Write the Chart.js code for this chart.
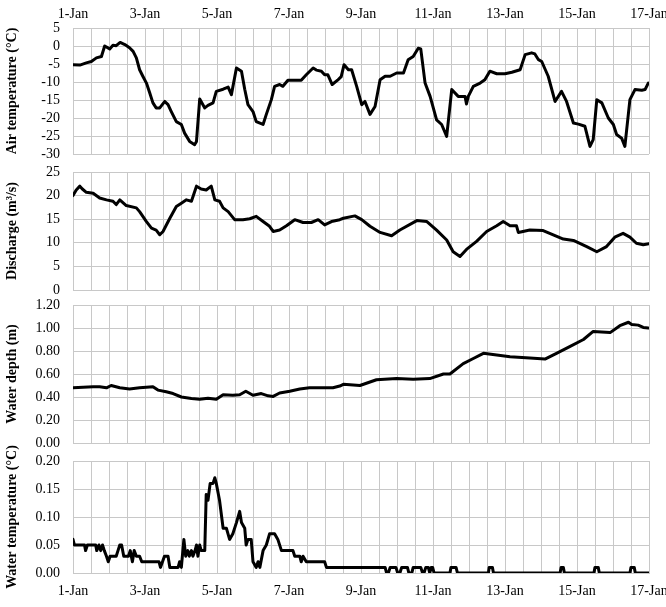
<!DOCTYPE html>
<html>
<head>
<meta charset="utf-8">
<script src="https://cdn.jsdelivr.net/npm/chart.js@4/dist/chart.umd.min.js"></script>
<style>
  html, body { margin: 0; padding: 0; background: #fff; }
  body { width: 666px; height: 607px; position: relative; overflow: hidden; }
  canvas { position: absolute; left: 0; }
</style>
</head>
<body>
<canvas id="c1" width="666" height="166" style="top:0px"></canvas>
<canvas id="c2" width="666" height="140" style="top:160px"></canvas>
<canvas id="c3" width="666" height="160" style="top:293px"></canvas>
<canvas id="c4" width="666" height="187" style="top:420px"></canvas>
<script>
// x tick labels (day offset 0 = 1-Jan, every 2 days)
const dayLabels = ['1-Jan','3-Jan','5-Jan','7-Jan','9-Jan','11-Jan','13-Jan','15-Jan','17-Jan'];

// Air temperature (°C)
const airDays = [0, .19, .37, .51, .65, .79, .88, 1.02, 1.11, 1.2,
  1.31, 1.44, 1.57, 1.67, 1.76, 1.85, 1.94, 2.04, 2.13, 2.22,
  2.31, 2.41, 2.55, 2.64, 2.73, 2.87, 3.01, 3.1, 3.24, 3.38,
  3.43, 3.52, 3.66, 3.75, 3.89, 3.98, 4.17, 4.31, 4.4, 4.54,
  4.68, 4.77, 4.86, 5.0, 5.09, 5.28, 5.37, 5.51, 5.6, 5.74,
  5.83, 5.97, 6.11, 6.34, 6.48, 6.67, 6.76, 6.9, 6.99, 7.08,
  7.2, 7.35, 7.45, 7.53, 7.65, 7.74, 7.88, 8.02, 8.11, 8.25,
  8.39, 8.53, 8.67, 8.81, 8.99, 9.18, 9.31, 9.45, 9.59, 9.66,
  9.78, 9.92, 10.1, 10.24, 10.38, 10.52, 10.7, 10.89, 10.93, 10.98,
  11.12, 11.31, 11.44, 11.58, 11.77, 12.0, 12.19, 12.42, 12.56, 12.74,
  12.83, 12.93, 13.02, 13.2, 13.39, 13.57, 13.71, 13.9, 14.04, 14.22,
  14.36, 14.45, 14.55, 14.69, 14.87, 15.01, 15.1, 15.24, 15.33, 15.47,
  15.61, 15.8, 15.89, 15.98];
const airTemp = [-5.2, -5.3, -4.7, -4.3, -3.3, -2.9, 0, -0.8, 0.2, 0.1,
  1.0, 0.4, -0.5, -1.5, -3.3, -6.6, -8.4, -10.3, -13, -15.8,
  -17.2, -17.2, -15.4, -16.3, -18.2, -21, -21.8, -24.2, -26.5, -27.4,
  -26.5, -14.7, -17.2, -16.5, -15.8, -12.6, -12, -11.4, -13.5, -6.1,
  -7, -12, -16.3, -18.2, -21, -21.8, -19, -14.9, -11.2, -10.7,
  -11.2, -9.5, -9.5, -9.5, -8, -6.1, -6.7, -7, -8, -8,
  -10.7, -9.5, -8.5, -5.2, -6.6, -6.6, -11.2, -16.3, -15.4, -19,
  -16.8, -9.4, -8.4, -8.4, -7.5, -7.5, -3.8, -2.9, -0.6, -0.8,
  -10.3, -14, -20.5, -21.8, -25.1, -12.1, -14, -14, -16.1, -14,
  -11.2, -10.3, -9.4, -7, -7.7, -7.7, -7.3, -6.6, -2.4, -1.9,
  -2.2, -3.8, -4.3, -8.4, -15.4, -12.6, -15.4, -21.4, -21.7, -22.3,
  -27.9, -26, -14.9, -15.8, -20, -21.8, -24.6, -25.6, -27.9, -14.9,
  -12.1, -12.3, -12.1, -10.3];

// Discharge (m3/s)
const qDays = [0, .09, .19, .26, .37, .56, .74, .93, 1.11, 1.2,
  1.3, 1.48, 1.76, 1.85, 2.04, 2.18, 2.31, 2.41, 2.5, 2.69,
  2.87, 3.01, 3.15, 3.29, 3.43, 3.56, 3.7, 3.84, 3.94, 4.07,
  4.17, 4.31, 4.49, 4.72, 4.91, 5.09, 5.28, 5.46, 5.56, 5.74,
  5.93, 6.16, 6.39, 6.62, 6.81, 6.99, 7.18, 7.41, 7.51, 7.83,
  8.02, 8.25, 8.53, 8.85, 9.08, 9.55, 9.83, 10.1, 10.38, 10.56,
  10.75, 10.93, 11.21, 11.49, 11.77, 11.95, 12.14, 12.32, 12.37, 12.69,
  13.06, 13.34, 13.62, 13.9, 14.27, 14.55, 14.82, 15.05, 15.28, 15.47,
  15.65, 15.84, 16.0];
const discharge = [20.0, 21.2, 22, 21.4, 20.7, 20.5, 19.5, 19.1, 18.8, 18.1,
  19.1, 17.9, 17.4, 16.6, 14.5, 13.1, 12.7, 11.7, 12.4, 15.2,
  17.7, 18.4, 19.1, 18.8, 22, 21.4, 21.2, 22, 19.1, 18.8,
  17.4, 16.6, 14.9, 14.9, 15.1, 15.6, 14.5, 13.5, 12.4, 12.7,
  13.6, 14.9, 14.3, 14.3, 14.9, 13.8, 14.5, 14.9, 15.2, 15.7,
  14.9, 13.5, 12.2, 11.5, 12.7, 14.7, 14.5, 12.7, 10.6, 8.1,
  7.1, 8.6, 10.3, 12.4, 13.6, 14.5, 13.6, 13.6, 12.2, 12.7,
  12.6, 11.7, 10.8, 10.5, 9.2, 8.1, 9.2, 11.2, 12.0, 11.2,
  9.9, 9.6, 9.8];

// Water depth (m)
const depthDays = [0, .56, .74, .93, 1.06, 1.3, 1.57, 1.85, 2.22, 2.36,
  2.59, 2.78, 3.01, 3.29, 3.52, 3.75, 3.98, 4.17, 4.44, 4.63,
  4.8, 5.0, 5.23, 5.42, 5.56, 5.74, 6.02, 6.3, 6.57, 6.94,
  7.22, 7.41, 7.51, 7.97, 8.43, 8.99, 9.45, 9.91, 10.29, 10.47,
  10.84, 11.12, 11.4, 11.77, 12.14, 12.69, 13.11, 13.43, 13.81, 14.18,
  14.45, 14.92, 15.19, 15.43, 15.52, 15.7, 15.84, 15.98];
const depth = [.48, .49, .49, .48, .50, .48, .47, .48, .49, .46,
  .445, .43, .40, .387, .38, .39, .38, .42, .415, .42,
  .45, .415, .43, .41, .405, .435, .45, .47, .48, .48,
  .48, .495, .51, .50, .55, .56, .555, .56, .60, .60,
  .69, .735, .78, .765, .75, .74, .73, .78, .84, .90,
  .97, .96, 1.02, 1.05, 1.03, 1.025, 1.005, 1.0];

// Water temperature (°C)
const wtDays = [0, .04, .32, .35, .40, .63, .66, .72, .77, .82,
  .87, .93, .98, 1.03, 1.2, 1.25, 1.3, 1.35, 1.41, 1.54,
  1.59, 1.65, 1.7, 1.76, 1.85, 1.91, 2.39, 2.43, 2.54, 2.64,
  2.69, 2.92, 2.96, 3.01, 3.08, 3.13, 3.19, 3.23, 3.29, 3.33,
  3.39, 3.43, 3.47, 3.52, 3.56, 3.66, 3.7, 3.75, 3.81, 3.89,
  3.94, 3.98, 4.07, 4.17, 4.26, 4.35, 4.44, 4.54, 4.63, 4.68,
  4.77, 4.81, 4.86, 4.95, 5.0, 5.09, 5.14, 5.19, 5.28, 5.37,
  5.46, 5.6, 5.69, 5.79, 6.11, 6.16, 6.3, 6.34, 6.39, 6.48,
  6.99, 7.04, 8.67, 8.71, 8.76, 8.81, 8.97, 9.02, 9.08, 9.13,
  9.29, 9.33, 9.41, 9.45, 9.66, 9.71, 9.75, 9.8, 9.87, 9.91,
  9.95, 9.99, 10.03, 10.47, 10.5, 10.64, 10.68, 11.54, 11.56, 11.65,
  11.68, 13.53, 13.56, 13.62, 13.65, 14.47, 14.5, 14.59, 14.62, 15.47,
  15.5, 15.59, 15.62, 16.0];
const waterTemp = [.06, .05, .05, .04, .05, .05, .04, .05, .04, .05,
  .04, .03, .02, .03, .03, .04, .05, .05, .03, .03,
  .04, .02, .04, .03, .03, .02, .02, .01, .03, .03,
  .01, .01, .02, .01, .06, .03, .04, .03, .04, .03,
  .04, .05, .03, .05, .04, .04, .14, .13, .16, .16,
  .17, .16, .13, .08, .08, .06, .07, .09, .11, .09,
  .08, .05, .06, .06, .02, .01, .02, .01, .04, .05,
  .07, .07, .06, .04, .04, .03, .03, .02, .03, .02,
  .02, .01, .01, 0, 0, .01, .01, 0, 0, .01,
  .01, 0, 0, .01, .01, 0, 0, .01, .01, 0,
  .01, .01, 0, 0, .01, .01, 0, 0, .01, .01,
  0, 0, .01, .01, 0, 0, .01, .01, 0, 0,
  .01, .01, 0, 0];

const FONT = 'Liberation Serif, Times New Roman, serif';
const GRID = '#c8c8c8';

function pts(xs, ys) { return xs.map((x, i) => ({ x: x, y: ys[i] })); }

function makeChart(id, xs, ys, opt) {
  const xPos = opt.xPos || 'bottom';
  new Chart(document.getElementById(id), {
    type: 'line',
    data: { datasets: [{ data: pts(xs, ys), borderColor: '#000', borderWidth: 3,
      pointRadius: 0, tension: 0, fill: false, borderJoinStyle: 'round', borderCapStyle: 'round' }] },
    options: {
      responsive: false, animation: false, devicePixelRatio: 1,
      layout: { padding: { left: 0, right: 17, top: opt.padTop, bottom: opt.padBottom } },
      plugins: { legend: { display: false }, tooltip: { enabled: false } },
      scales: {
        x: {
          type: 'linear', position: xPos, min: 0, max: 16,
          grid: { color: GRID, lineWidth: 1, drawTicks: false },
          border: { color: GRID },
          ticks: {
            display: !!opt.xLabels, stepSize: 0.5, autoSkip: false, maxRotation: 0, maxTicksLimit: 100,
            padding: opt.xPad || 8, color: '#000', font: { family: FONT, size: 14 },
            callback: v => (Number.isInteger(v) && v % 2 === 0) ? dayLabels[v / 2] : ''
          },
          afterFit: s => { s.height = opt.xHeight; s.paddingLeft = 0; s.paddingRight = 0; }
        },
        y: {
          min: opt.min, max: opt.max,
          grid: { color: GRID, lineWidth: 1, drawTicks: false },
          border: { color: GRID },
          ticks: { stepSize: opt.step, padding: 13, color: '#000', autoSkip: false, maxTicksLimit: 50,
            font: { family: FONT, size: 14 },
            callback: v => opt.dec ? v.toFixed(opt.dec) : String(Math.round(v)) },
          title: { display: true, text: opt.title, color: '#000', padding: { top: 4, bottom: 0 },
            font: { family: FONT, size: 14, weight: 'bold' } },
          afterFit: s => { s.width = 73; s.paddingTop = 0; s.paddingBottom = 0; }
        }
      }
    }
  });
}

makeChart('c1', airDays, airTemp, { xPos: 'top', xLabels: true, xHeight: 28, xPad: 5,
  padTop: 0, padBottom: 12, min: -30, max: 5, step: 5, title: 'Air temperature (°C)' });
makeChart('c2', qDays, discharge, { xHeight: 0, padTop: 12, padBottom: 10,
  min: 0, max: 25, step: 5, title: 'Discharge (m³/s)' });
makeChart('c3', depthDays, depth, { xHeight: 0, padTop: 12, padBottom: 10,
  min: 0, max: 1.2, step: 0.2, dec: 2, title: 'Water depth (m)' });
makeChart('c4', wtDays, waterTemp, { xLabels: true, xHeight: 34, xPad: 10, padTop: 41, padBottom: 0,
  min: 0, max: 0.2, step: 0.05, dec: 2, title: 'Water temperature (°C)' });
</script>
</body>
</html>
